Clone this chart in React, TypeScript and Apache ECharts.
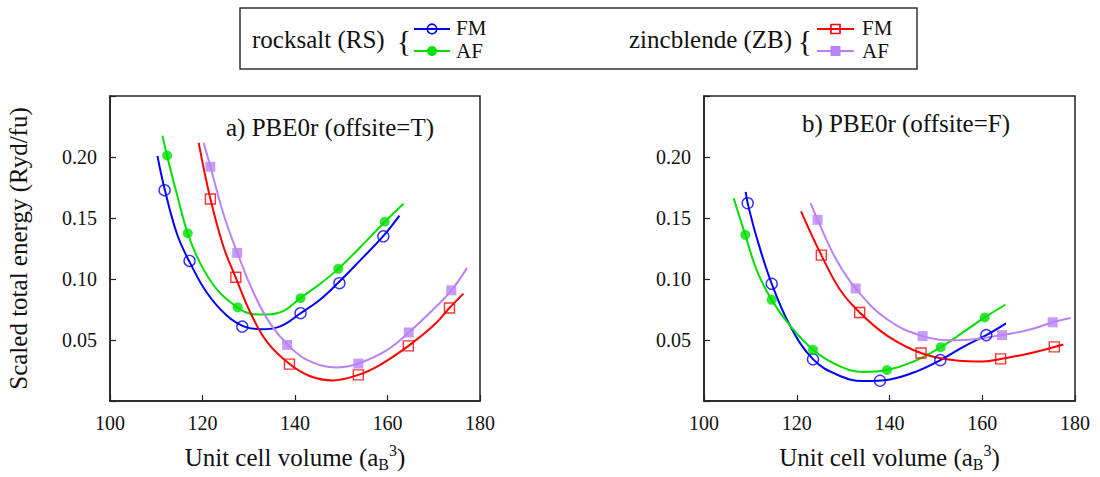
import React, { useEffect, useRef } from "react";
import * as echarts from "echarts";

// ---------- axis settings ----------
const X_RANGE = [100, 180];
const X_STEP = 20;
const Y_RANGE = [0, 0.25];
const Y_STEP = 0.05;

const PANEL_TITLES = ["a) PBE0r (offsite=T)", "b) PBE0r (offsite=F)"];
const X_NAME = "{n|Unit cell volume (a}{sub|B}{sup|3}{n|)}";
const Y_NAME = "Scaled total energy (Ryd/fu)";
const LEGEND_GROUPS = ["rocksalt (RS)", "zincblende (ZB)"];
const LEGEND_ITEMS = ["FM", "AF"];

// ---------- panel a) offsite=T : data points ----------
const aRsFmPts = [[111.8, 0.1728], [117.2, 0.1148], [128.6, 0.061], [141.2, 0.072], [149.6, 0.0966], [159.1, 0.135]];
const aRsAfPts = [[112.35, 0.2012], [116.8, 0.1375], [127.6, 0.0768], [141.2, 0.0843], [149.35, 0.1083], [159.4, 0.1469]];
const aZbFmPts = [[121.7, 0.1656], [127.2, 0.1014], [138.8, 0.0302], [153.7, 0.0214], [164.5, 0.0452], [173.4, 0.0762]];
const aZbAfPts = [[121.7, 0.192], [127.5, 0.1214], [138.3, 0.046], [153.7, 0.0307], [164.6, 0.0562], [173.8, 0.0907]];

// ---------- panel a) fitted curves (read along the drawn lines) ----------
const aRsFmFit = [[110.26, 0.2009], [111.62, 0.1768], [114.51, 0.1367], [117.39, 0.1126], [120.99, 0.0885], [125.31, 0.0698], [128.9, 0.0612], [132.72, 0.0588], [136.83, 0.0612], [141.14, 0.0717], [145.46, 0.0832], [149.35, 0.0969], [154.1, 0.1153], [159.07, 0.1351], [162.59, 0.1519]];
const aRsAfFit = [[111.34, 0.2175], [112.35, 0.2009], [114.51, 0.1688], [116.8, 0.1375], [119.55, 0.1126], [123.15, 0.0913], [127.54, 0.0768], [131.06, 0.0712], [133.95, 0.0709], [137.54, 0.0738], [141.21, 0.0845], [145.46, 0.0961], [149.35, 0.1083], [154.1, 0.126], [159.44, 0.1469], [163.46, 0.1616]];
const aZbFmFit = [[119.18, 0.2116], [121.71, 0.1656], [124.58, 0.126], [127.17, 0.1014], [130.35, 0.0725], [133.95, 0.0484], [138.83, 0.0303], [143.3, 0.0203], [148.12, 0.0169], [153.67, 0.0214], [158.42, 0.0297], [164.54, 0.0452], [169.93, 0.0618], [173.39, 0.0762], [176.41, 0.088]];
const aZbAfFit = [[120.26, 0.2116], [121.71, 0.192], [124.58, 0.1527], [127.54, 0.1214], [131.06, 0.0885], [134.67, 0.0632], [138.4, 0.0463], [142.59, 0.0337], [149.07, 0.0275], [153.67, 0.0307], [159.87, 0.0417], [164.62, 0.0562], [169.93, 0.0752], [173.82, 0.0907], [177.21, 0.1091]];

// ---------- panel b) offsite=F : data points ----------
const bRsFmPts = [[109.42, 0.1621], [114.6, 0.0961], [123.5, 0.0342], [137.95, 0.0166], [150.96, 0.0335], [160.87, 0.054]];
const bRsAfPts = [[108.9, 0.1362], [114.6, 0.0829], [123.5, 0.042], [139.46, 0.0254], [151.04, 0.0441], [160.53, 0.0685]];
const bZbFmPts = [[125.3, 0.1196], [133.57, 0.0725], [146.79, 0.0393], [163.97, 0.0345], [175.54, 0.0444]];
const bZbAfPts = [[124.5, 0.1485], [132.7, 0.0923], [147.15, 0.0532], [164.26, 0.054], [175.19, 0.0645]];

// ---------- panel b) fitted curves ----------
const bRsFmFit = [[108.99, 0.1715], [109.42, 0.1621], [111.36, 0.134], [114.6, 0.0961], [118.54, 0.0618], [123.5, 0.0343], [128.61, 0.0217], [134.35, 0.0163], [140.1, 0.0177], [145.86, 0.0243], [150.96, 0.0335], [155.92, 0.0444], [160.87, 0.054], [165.12, 0.0637]];
const bRsAfFit = [[106.4, 0.1661], [108.9, 0.1362], [111.36, 0.1073], [114.6, 0.0829], [118.54, 0.0618], [123.5, 0.042], [128.61, 0.0297], [134.35, 0.0238], [139.46, 0.0254], [145.14, 0.0323], [151.04, 0.0441], [155.92, 0.0564], [160.53, 0.0685], [164.97, 0.0789]];
const bZbFmFit = [[120.92, 0.1555], [125.3, 0.1196], [129.33, 0.0912], [133.57, 0.0725], [139.39, 0.0538], [146.79, 0.0393], [154.49, 0.0332], [160.23, 0.0324], [163.97, 0.0345], [170.3, 0.0391], [177.48, 0.0463]];
const bZbAfFit = [[123.0, 0.1621], [124.5, 0.1485], [128.61, 0.1153], [132.7, 0.0923], [139.39, 0.0672], [147.15, 0.0532], [154.49, 0.0498], [164.26, 0.054], [170.3, 0.0586], [175.19, 0.0645], [179.07, 0.068]];

// ---------- styling ----------
const FONT = "Liberation Serif, DejaVu Serif, serif";
const C_BLUE = "#0000ff";
const C_GREEN = "#00e000";
const C_RED = "#ff0000";
const C_PURPLE = "#b982f8";
const AXIS_COLOR = "#222";

type Kind = { color: string; symbol: string; filled: boolean; size: number };
const KINDS: Kind[] = [
  { color: C_BLUE, symbol: "circle", filled: false, size: 11 },
  { color: C_GREEN, symbol: "circle", filled: true, size: 10 },
  { color: C_RED, symbol: "rect", filled: false, size: 10 },
  { color: C_PURPLE, symbol: "rect", filled: true, size: 10 },
];

const PANELS = [
  { pts: [aRsFmPts, aRsAfPts, aZbFmPts, aZbAfPts], fits: [aRsFmFit, aRsAfFit, aZbFmFit, aZbAfFit] },
  { pts: [bRsFmPts, bRsAfPts, bZbFmPts, bZbAfPts], fits: [bRsFmFit, bRsAfFit, bZbFmFit, bZbAfFit] },
];

const GRIDS = [
  { left: 110, right: 620, top: 96, bottom: 70 },
  { left: 704, right: 25, top: 96, bottom: 70 },
];

function buildOption() {
  const series: any[] = [];
  PANELS.forEach((p, gi) => {
    p.fits.forEach((fit, k) => {
      series.push({
        type: "line",
        xAxisIndex: gi,
        yAxisIndex: gi,
        data: fit,
        smooth: 0.4,
        symbol: "none",
        lineStyle: { color: KINDS[k].color, width: 2 },
        silent: true,
        z: 2,
      });
    });
    p.pts.forEach((pts, k) => {
      const kd = KINDS[k];
      series.push({
        type: "scatter",
        xAxisIndex: gi,
        yAxisIndex: gi,
        data: pts,
        symbol: kd.symbol,
        symbolSize: kd.size,
        itemStyle: kd.filled
          ? { color: kd.color }
          : { color: "rgba(255,255,255,0)", borderColor: kd.color, borderWidth: 1.4 },
        z: 3,
      });
    });
  });

  const xAxis = GRIDS.map((_, gi) => ({
    gridIndex: gi,
    type: "value",
    min: X_RANGE[0],
    max: X_RANGE[1],
    interval: X_STEP,
    axisLine: { show: true, onZero: false, lineStyle: { color: AXIS_COLOR, width: 1.5 } },
    axisTick: { show: true, inside: true, length: 6, lineStyle: { color: AXIS_COLOR, width: 1.2 } },
    splitLine: { show: false },
    axisLabel: { fontFamily: FONT, fontSize: 20, color: "#111", margin: 12 },
    name: X_NAME,
    nameLocation: "middle",
    nameGap: 41,
    nameTextStyle: {
      fontFamily: FONT,
      fontSize: 25,
      color: "#111",
      rich: {
        n: { fontFamily: FONT, fontSize: 25, color: "#111", lineHeight: 30, verticalAlign: "middle" },
        sub: { fontFamily: FONT, fontSize: 16, color: "#111", lineHeight: 15, verticalAlign: "bottom" },
        sup: { fontFamily: FONT, fontSize: 16, color: "#111", lineHeight: 15, verticalAlign: "top" },
      },
    },
  }));

  const yAxis = GRIDS.map((_, gi) => ({
    gridIndex: gi,
    type: "value",
    min: Y_RANGE[0],
    max: Y_RANGE[1],
    interval: Y_STEP,
    axisLine: { show: true, onZero: false, lineStyle: { color: AXIS_COLOR, width: 1.5 } },
    axisTick: { show: true, inside: true, length: 6, lineStyle: { color: AXIS_COLOR, width: 1.2 } },
    splitLine: { show: false },
    axisLabel: {
      fontFamily: FONT,
      fontSize: 20,
      color: "#111",
      margin: 13,
      formatter: (v: number) => (v <= 1e-9 || v >= Y_RANGE[1] - 1e-9 ? "" : v.toFixed(2)),
    },
    name: gi === 0 ? Y_NAME : "",
    nameLocation: "middle",
    nameRotate: 90,
    nameGap: 79,
    nameTextStyle: { fontFamily: FONT, fontSize: 25, color: "#111" },
  }));

  const txt = (text: string, x: number, y: number, size: number, align = "left") => ({
    type: "text",
    x,
    y,
    silent: true,
    style: { text, fontFamily: FONT, fontSize: size, fill: "#111", align, verticalAlign: "middle" },
  });

  const graphic: any[] = [
    // panel titles
    txt(PANEL_TITLES[0], 330, 127, 25, "center"),
    txt(PANEL_TITLES[1], 906, 123, 25, "center"),
    // legend box
    {
      type: "rect",
      shape: { x: 240, y: 8, width: 677, height: 61 },
      style: { fill: "#fff", stroke: "#333", lineWidth: 1.5 },
      silent: true,
    },
    txt(LEGEND_GROUPS[0], 252, 39, 25),
    txt("{", 404, 40, 30, "center"),
    { type: "line", shape: { x1: 414, y1: 29, x2: 450, y2: 29 }, style: { stroke: C_BLUE, lineWidth: 2 } },
    { type: "circle", shape: { cx: 432, cy: 29, r: 4.8 }, style: { fill: "#fff", stroke: C_BLUE, lineWidth: 1.6 } },
    { type: "line", shape: { x1: 424, y1: 29, x2: 440, y2: 29 }, style: { stroke: C_BLUE, lineWidth: 2 } },
    txt(LEGEND_ITEMS[0], 456, 28, 21),
    { type: "line", shape: { x1: 414, y1: 51, x2: 450, y2: 51 }, style: { stroke: C_GREEN, lineWidth: 2 } },
    { type: "circle", shape: { cx: 432, cy: 51, r: 5 }, style: { fill: C_GREEN } },
    txt(LEGEND_ITEMS[1], 456, 51, 21),
    txt(LEGEND_GROUPS[1], 629, 39, 25),
    txt("{", 805, 40, 30, "center"),
    { type: "line", shape: { x1: 817, y1: 29, x2: 854, y2: 29 }, style: { stroke: C_RED, lineWidth: 2 } },
    { type: "rect", shape: { x: 831, y: 24.5, width: 9, height: 9 }, style: { fill: "#fff", stroke: C_RED, lineWidth: 1.6 } },
    { type: "line", shape: { x1: 831, y1: 29, x2: 840, y2: 29 }, style: { stroke: C_RED, lineWidth: 2 } },
    txt(LEGEND_ITEMS[0], 862, 28, 21),
    { type: "line", shape: { x1: 817, y1: 51, x2: 854, y2: 51 }, style: { stroke: C_PURPLE, lineWidth: 2 } },
    { type: "rect", shape: { x: 830.5, y: 46, width: 10, height: 10 }, style: { fill: C_PURPLE } },
    txt(LEGEND_ITEMS[1], 862, 51, 21),
  ];

  return {
    animation: false,
    backgroundColor: "#fff",
    grid: GRIDS.map((g) => ({ ...g, show: true, borderColor: AXIS_COLOR, borderWidth: 1.5, containLabel: false })),
    xAxis,
    yAxis,
    series,
    graphic,
  };
}

export default function App() {
  const ref = useRef<HTMLDivElement>(null);
  useEffect(() => {
    if (!ref.current) return;
    const chart = echarts.init(ref.current, undefined, { renderer: "svg" });
    chart.setOption(buildOption() as any);
    return () => chart.dispose();
  }, []);
  return (
    <div
      ref={ref}
      style={{ position: "fixed", left: 0, top: 0, width: 1100, height: 477, background: "#fff" }}
    />
  );
}
